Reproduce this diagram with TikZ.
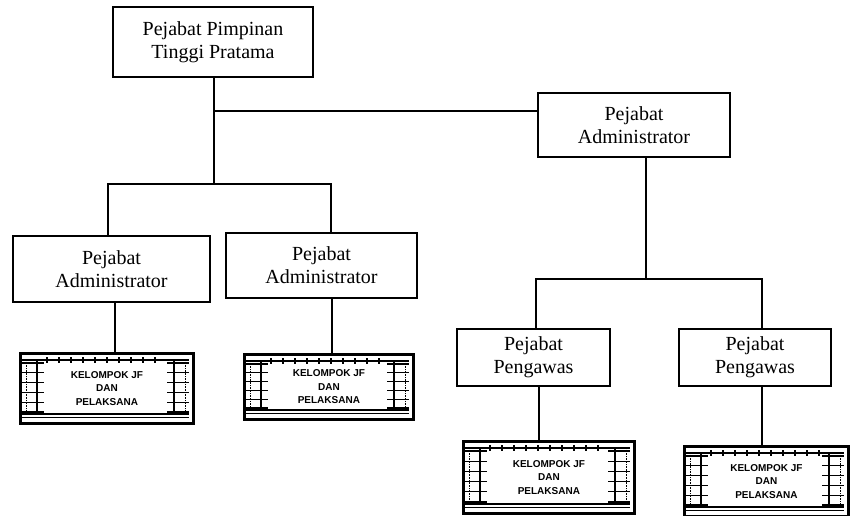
\documentclass[tikz,border=0pt]{standalone}
\usepackage{fontspec}
\setmainfont{Liberation Serif}
\newfontfamily\kfont[BoldFont={Liberation Sans Bold}]{Liberation Sans}
\usetikzlibrary{calc}
\tikzset{
  box/.style={draw, line width=1.9pt, align=center, inner sep=0pt,
    font=\fontsize{20}{23}\selectfont},
  link/.style={line width=1.6pt},
  kel/.style={draw, line width=2.8pt, align=center, inner sep=0pt,
    font=\kfont\bfseries\fontsize{10}{13.5}\selectfont},
  pat/.style={line width=1.2pt},
  patfaint/.style={line width=0.6pt, densely dotted},
}
% #1 name, #2 left x, #3 top y, #4 width, #5 height
\newcommand\kbox[5]{%
  \begin{scope}[shift={(#2,#3)}]
    \node[kel, minimum width=#4pt, minimum height=#5pt, anchor=north west] (#1) at (0,0)
      {KELOMPOK JF\\DAN\\PELAKSANA};
    % top band
    \draw[pat] (3,8) -- ({#4-3},8);
    \pgfmathtruncatemacro\ntick{(#4-56)/12}
    \foreach \k in {0,...,\ntick} \draw[pat] ({28+\k*12},5) -- ++(0,6);
    % bottom double line
    \draw[pat] (3,{#5-8}) -- ({#4-3},{#5-8});
    \draw[pat] (3,{#5-4.5}) -- ({#4-3},{#5-4.5});
    % side ladders
    \draw[pat] (18,8) -- (18,{#5-8});
    \draw[pat] ({#4-18},8) -- ({#4-18},{#5-8});
    \draw[patfaint] (7,8) -- (7,{#5-8});
    \draw[patfaint] ({#4-7},8) -- ({#4-7},{#5-8});
    \foreach \k in {0,...,5} {
      \draw[pat] (3,{11+\k*(#5-21)/5}) -- (25,{11+\k*(#5-21)/5});
      \draw[pat] ({#4-25},{11+\k*(#5-21)/5}) -- ({#4-3},{11+\k*(#5-21)/5});
    }
  \end{scope}}
\begin{document}
\begin{tikzpicture}[x=1pt, y=-1pt]
  \useasboundingbox[fill=white] (0,0) rectangle (852,516);

  % main boxes
  \node[box, minimum width=200pt, minimum height=70pt] (top) at (213,42)
    {Pejabat Pimpinan\\Tinggi Pratama};
  \node[box, minimum width=192pt, minimum height=64pt] (r) at (634,125)
    {Pejabat\\Administrator};
  \node[box, minimum width=197pt, minimum height=66pt] (a1) at (111.5,269)
    {Pejabat\\Administrator};
  \node[box, minimum width=191pt, minimum height=65pt] (a2) at (321.5,265.5)
    {Pejabat\\Administrator};
  \node[box, minimum width=153pt, minimum height=57pt] (s1) at (533.5,357.5)
    {Pejabat\\Pengawas};
  \node[box, minimum width=152pt, minimum height=57pt] (s2) at (755,357.5)
    {Pejabat\\Pengawas};

  % pattern boxes
  \kbox{k1}{19}{352}{173}{70}
  \kbox{k2}{243}{353}{169}{65}
  \kbox{k3}{462}{440}{171}{72}
  \kbox{k4}{683}{445}{164}{70}

  % junction coordinates
  \coordinate (br) at (214,111);
  \coordinate (busL) at (108,184);
  \coordinate (busR) at (331,184);
  \coordinate (d1) at (115,0);
  \coordinate (d2) at (332,0);
  \coordinate (rv) at (646,279);
  \coordinate (sbL) at (536,279);
  \coordinate (sbR) at (762,279);
  \coordinate (d3) at (539,0);
  \coordinate (d4) at (762,0);

  % connectors
  \draw[link] (top.south -| br) -- (br |- busL);
  \draw[link] (br) -- (r.west |- br);
  \draw[link] (a1.north -| busL) -- (busL) -- (busR) -- (a2.north -| busR);
  \draw[link] (a1.south -| d1) -- (k1.north -| d1);
  \draw[link] (a2.south -| d2) -- (k2.north -| d2);
  \draw[link] (r.south -| rv) -- (rv);
  \draw[link] (s1.north -| sbL) -- (sbL) -- (sbR) -- (s2.north -| sbR);
  \draw[link] (s1.south -| d3) -- (k3.north -| d3);
  \draw[link] (s2.south -| d4) -- (k4.north -| d4);
\end{tikzpicture}
\end{document}
